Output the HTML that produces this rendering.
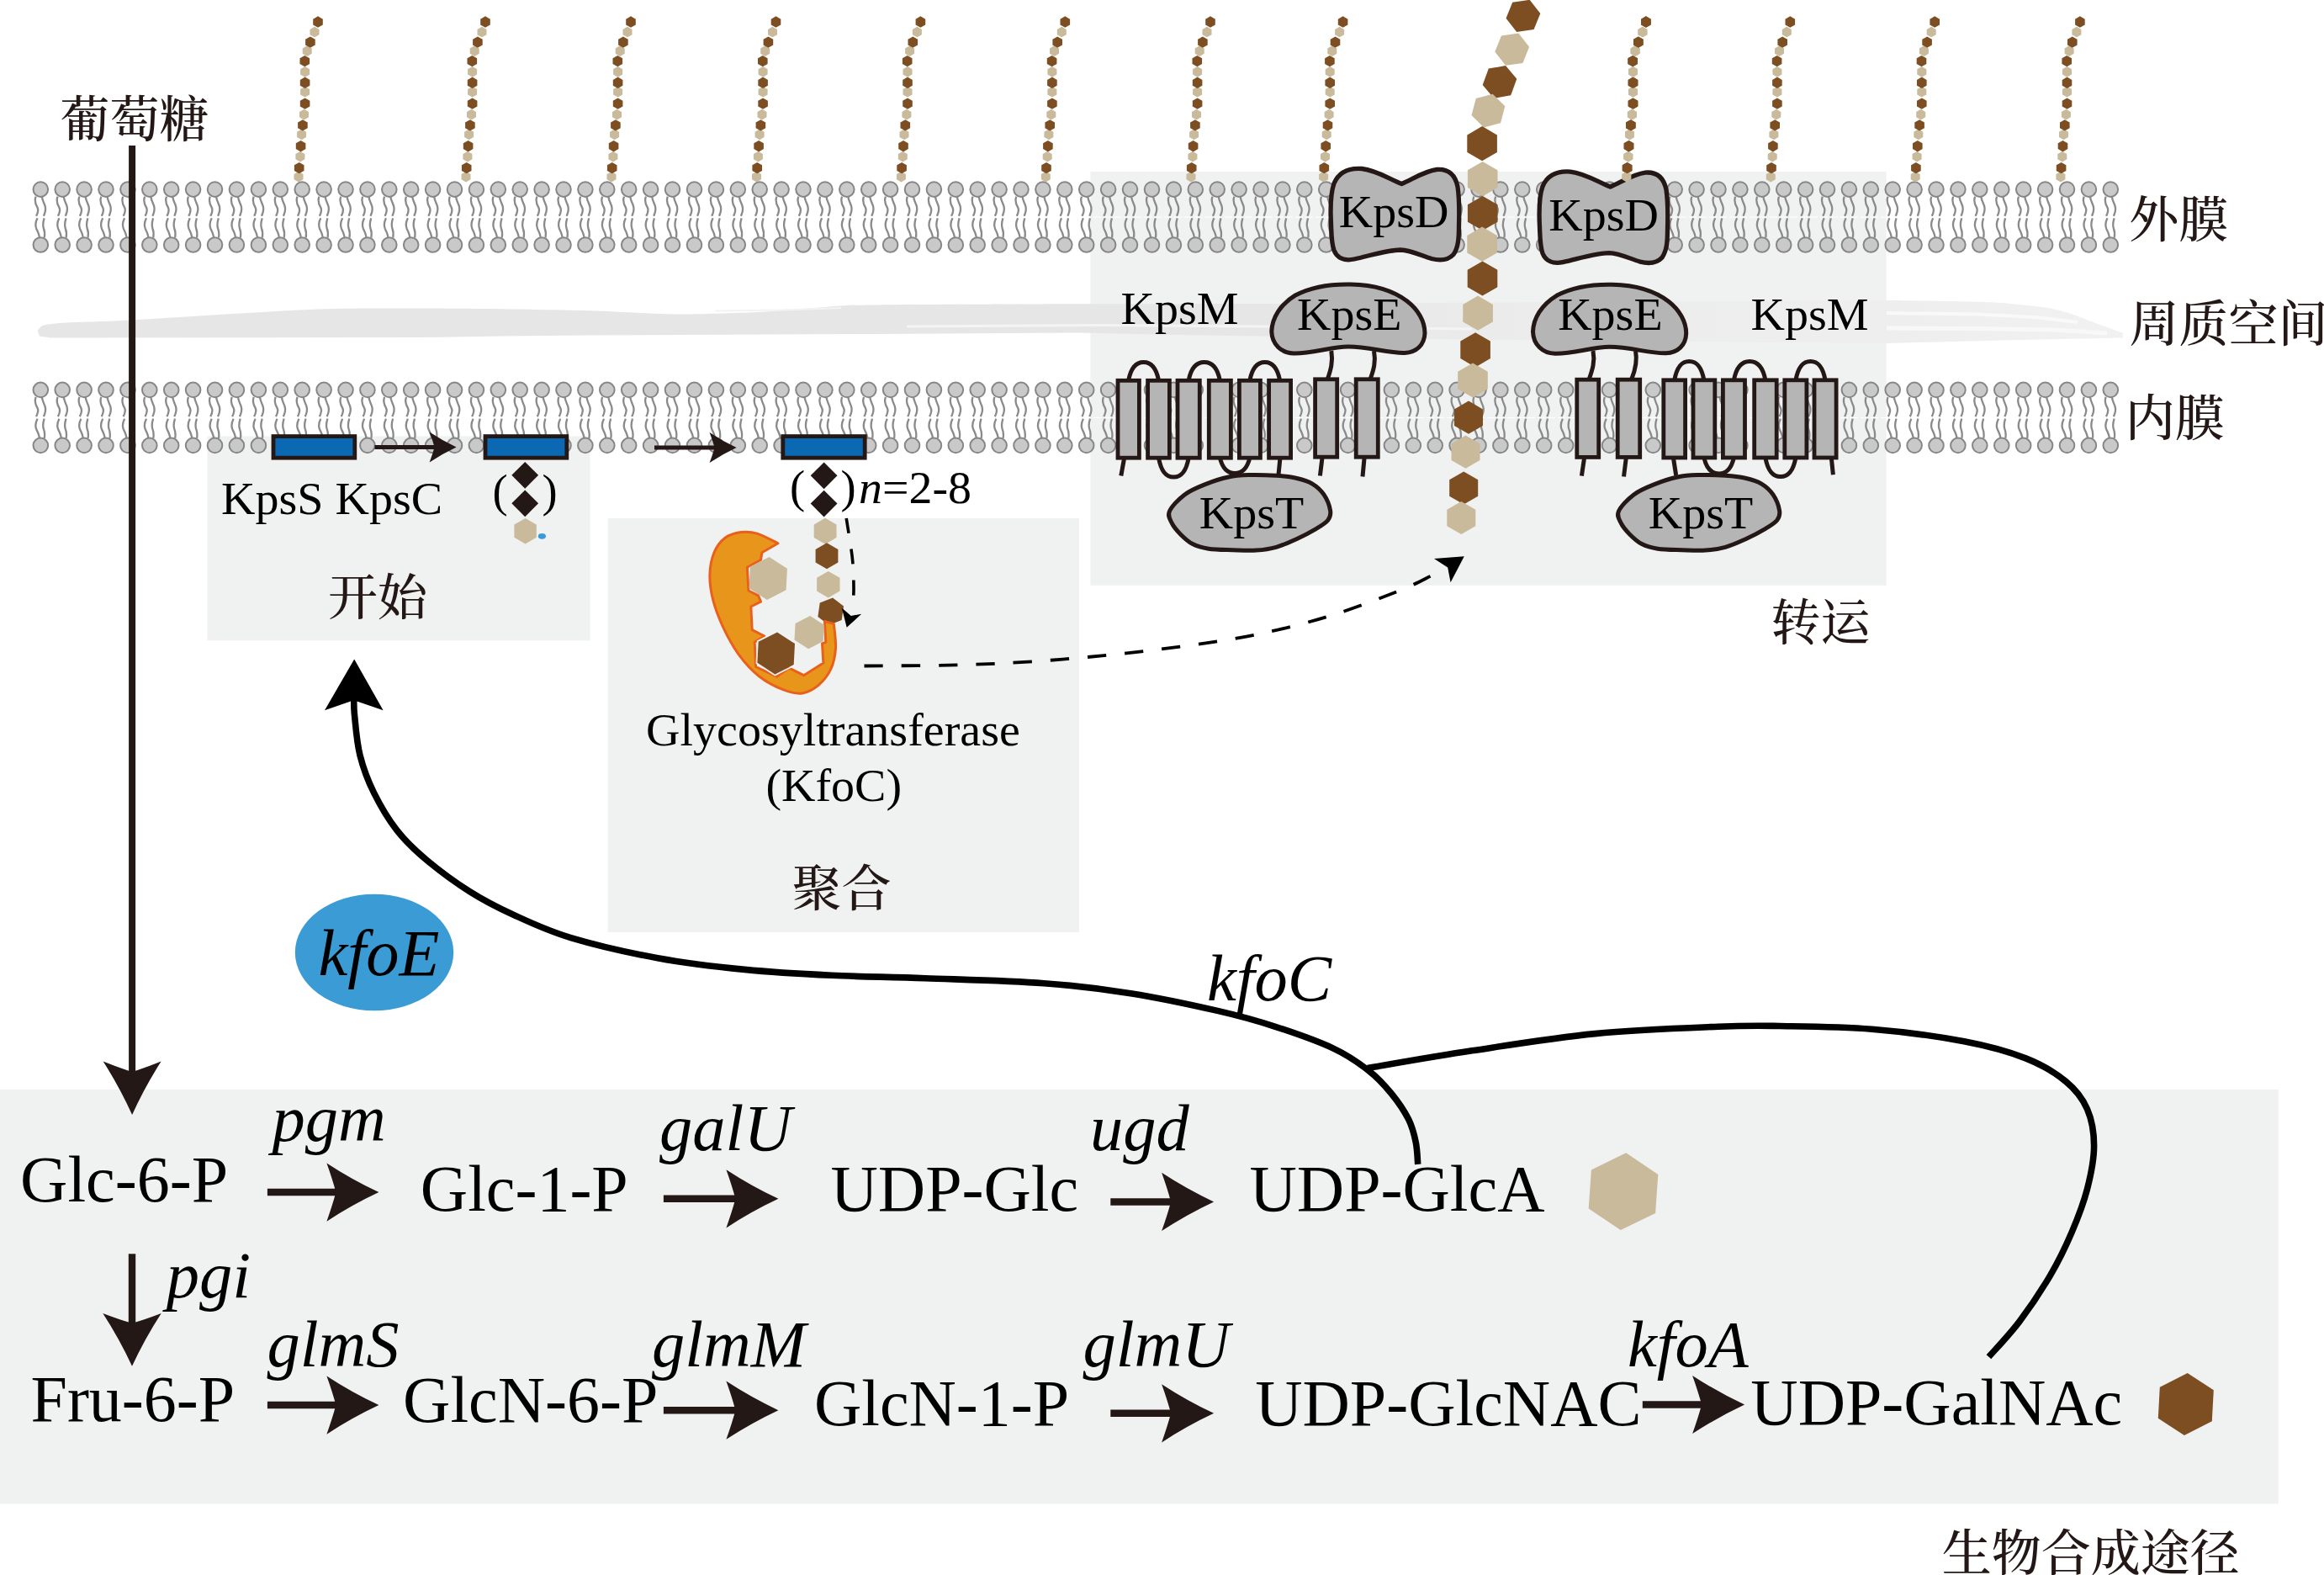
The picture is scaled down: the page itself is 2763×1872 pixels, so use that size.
<!DOCTYPE html>
<html lang="zh"><head><meta charset="utf-8"><title>K4 capsular polysaccharide biosynthesis pathway</title>
<style>html,body{margin:0;padding:0;background:#fff}body{width:2763px;height:1872px;overflow:hidden}svg{display:block}.s{font-family:"Liberation Serif","Noto Serif CJK SC",serif;fill:#000}.i{font-family:"Liberation Serif","Noto Serif CJK SC",serif;font-style:italic;fill:#000}.c{font-family:"Liberation Serif","Noto Serif CJK SC",serif;font-weight:500;fill:#231815}</style></head><body>
<svg width="2763" height="1872" viewBox="0 0 2763 1872">
<defs>
<g id="lt"><path d="M-5.7,8.5C-7.6,13.5 -6.2,17.5 -3.8,21.5C-2,25 -3.6,28.5 -5.3,31.7M1.6,8.5C1.8,12.5 3.8,15.5 5.2,19.5C6.6,24 5.4,28 3.5,31.7" fill="none" stroke="#8a8a8a" stroke-width="2.3"/><circle r="8.8" fill="#c9c9c9" stroke="#868686" stroke-width="2"/></g>
<g id="lb"><path d="M-1.5,-8.5C-1.6,-12.5 -3.2,-15.5 -4.9,-18.8C-6.6,-22.5 -6.4,-26.5 -3.8,-31.7M4.5,-8.5C5.1,-12.5 5.2,-15.5 3.6,-19.5C2.2,-23.5 3,-27.5 4.3,-31.7" fill="none" stroke="#8a8a8a" stroke-width="2.3"/><circle r="8.8" fill="#c9c9c9" stroke="#868686" stroke-width="2"/></g>
<g id="ch"><polygon points="0,-6.3 5.5,-3.1 5.5,3.1 0,6.3 -5.5,3.1 -5.5,-3.2" fill="#c8ba9a"/><polygon points="0.7,-17.3 6.5,-13.9 6.5,-7.2 0.7,-3.9 -5.1,-7.2 -5.1,-13.9" fill="#7d4e22"/><polygon points="1.9,-30.3 7.4,-27.1 7.4,-20.9 1.9,-17.7 -3.6,-20.9 -3.6,-27.2" fill="#c8ba9a"/><polygon points="2.6,-43.2 8.4,-39.9 8.4,-33.1 2.6,-29.8 -3.2,-33.1 -3.2,-39.9" fill="#7d4e22"/><polygon points="3.6,-56.6 9.1,-53.4 9.1,-47.1 3.6,-44 -1.9,-47.1 -1.9,-53.4" fill="#c8ba9a"/><polygon points="4.9,-68 10.7,-64.6 10.7,-57.9 4.9,-54.6 -0.9,-57.9 -0.9,-64.6" fill="#7d4e22"/><polygon points="6.5,-80.4 12,-77.2 12,-70.9 6.5,-67.8 1,-70.9 1,-77.2" fill="#c8ba9a"/><polygon points="7.6,-93.8 13.4,-90.4 13.4,-83.8 7.6,-80.4 1.8,-83.8 1.8,-90.4" fill="#7d4e22"/><polygon points="7.6,-107.3 13.1,-104.1 13.1,-97.8 7.6,-94.7 2.1,-97.8 2.1,-104.1" fill="#c8ba9a"/><polygon points="7.6,-118.6 13.4,-115.2 13.4,-108.5 7.6,-105.2 1.8,-108.5 1.8,-115.2" fill="#7d4e22"/><polygon points="7.6,-131.1 13.1,-127.9 13.1,-121.6 7.6,-118.5 2.1,-121.6 2.1,-127.9" fill="#c8ba9a"/><polygon points="7.3,-144.3 13.1,-140.9 13.1,-134.2 7.3,-130.9 1.5,-134.2 1.5,-140.9" fill="#7d4e22"/><polygon points="10.2,-155.9 15.7,-152.8 15.7,-146.4 10.2,-143.3 4.7,-146.4 4.7,-152.8" fill="#c8ba9a"/><polygon points="13.9,-166.8 19.7,-163.4 19.7,-156.8 13.9,-153.4 8.1,-156.8 8.1,-163.4" fill="#7d4e22"/><polygon points="19,-178.5 24.5,-175.3 24.5,-169 19,-165.9 13.5,-169 13.5,-175.3" fill="#c8ba9a"/><polygon points="23,-190.9 28.8,-187.5 28.8,-180.8 23,-177.5 17.2,-180.8 17.2,-187.5" fill="#7d4e22"/></g>
</defs>
<rect x="246.5" y="518.5" width="455.1" height="242.8" fill="#f0f1f1"/>
<rect x="722.6" y="616" width="560.4" height="492" fill="#f0f1f1"/>
<rect x="1296.4" y="204" width="946.2" height="491.8" fill="#f0f1f1"/>
<rect x="0" y="1295" width="2708.8" height="492.4" fill="#f0f1f1"/>
<linearGradient id="pg" gradientUnits="userSpaceOnUse" x1="0" y1="0" x2="2763" y2="0"><stop offset="0" stop-color="#e6e6e6"/><stop offset="0.54" stop-color="#e6e6e6"/><stop offset="0.66" stop-color="#ececec"/><stop offset="0.81" stop-color="#eeeeee"/><stop offset="0.91" stop-color="#f1f1f1"/></linearGradient>
<path d="M44.7,393C45.6,392.2 47.6,387.7 52,386.5C56.4,385.3 67.1,384.2 80,383.5C92.9,382.8 117.8,382.6 155,380.6C192.2,378.6 328.6,369.2 378,367.5C427.4,365.8 509.8,366.6 550,366.8C590.2,367 668.8,368.5 700,369.3C731.2,370.1 775,373.3 800,373.5C825,373.7 875,372.2 900,371C925,369.8 982,364.6 1000,363.5C1018,362.4 1008.4,362.7 1044,362.4C1079.6,362.1 1228,361.5 1285,361.3C1342,361.1 1435.6,361.2 1500,361C1564.4,360.8 1725,359.9 1800,359.5C1875,359.1 2044.6,358.3 2100,358C2155.4,357.7 2209.2,356.8 2243,357C2276.8,357.2 2346.4,358.3 2370,359.4C2393.6,360.5 2420.4,363.9 2432,365.6C2443.6,367.3 2455.2,370.9 2463,373.3C2470.8,375.7 2486.4,382.2 2494,385C2501.6,387.8 2520.2,394.4 2524,395.8L2524,401.5L2400,404L2243,408L2000,406L1700,403L1400,398L1285,395.5L1044,397L700,398.5L600,399.5L500,401L60,401.5L47,399.5Z" fill="url(#pg)"/>
<path d="M1078,388L1300,386.5L1500,388L1750,391" fill="none" stroke="#f4f4f4" stroke-width="3"/>
<path d="M850,369.5L930,368.5L1000,366" fill="none" stroke="#f3f3f3" stroke-width="2"/>
<path d="M2243,372L2350,373.5L2420,377L2470,383" fill="none" stroke="#f9f9f9" stroke-width="4"/>
<path d="M2243,390L2350,390.5L2440,392L2505,396" fill="none" stroke="#f8f8f8" stroke-width="5"/>
<g><use href="#lt" x="48.3" y="225.1"/><use href="#lb" x="48.3" y="291"/><use href="#lt" x="74.2" y="225.1"/><use href="#lb" x="74.2" y="291"/><use href="#lt" x="100.1" y="225.1"/><use href="#lb" x="100.1" y="291"/><use href="#lt" x="126" y="225.1"/><use href="#lb" x="126" y="291"/><use href="#lt" x="151.9" y="225.1"/><use href="#lb" x="151.9" y="291"/><use href="#lt" x="177.8" y="225.1"/><use href="#lb" x="177.8" y="291"/><use href="#lt" x="203.7" y="225.1"/><use href="#lb" x="203.7" y="291"/><use href="#lt" x="229.6" y="225.1"/><use href="#lb" x="229.6" y="291"/><use href="#lt" x="255.5" y="225.1"/><use href="#lb" x="255.5" y="291"/><use href="#lt" x="281.4" y="225.1"/><use href="#lb" x="281.4" y="291"/><use href="#lt" x="307.4" y="225.1"/><use href="#lb" x="307.4" y="291"/><use href="#lt" x="333.3" y="225.1"/><use href="#lb" x="333.3" y="291"/><use href="#lt" x="359.2" y="225.1"/><use href="#lb" x="359.2" y="291"/><use href="#lt" x="385.1" y="225.1"/><use href="#lb" x="385.1" y="291"/><use href="#lt" x="411" y="225.1"/><use href="#lb" x="411" y="291"/><use href="#lt" x="436.9" y="225.1"/><use href="#lb" x="436.9" y="291"/><use href="#lt" x="462.8" y="225.1"/><use href="#lb" x="462.8" y="291"/><use href="#lt" x="488.7" y="225.1"/><use href="#lb" x="488.7" y="291"/><use href="#lt" x="514.6" y="225.1"/><use href="#lb" x="514.6" y="291"/><use href="#lt" x="540.5" y="225.1"/><use href="#lb" x="540.5" y="291"/><use href="#lt" x="566.4" y="225.1"/><use href="#lb" x="566.4" y="291"/><use href="#lt" x="592.3" y="225.1"/><use href="#lb" x="592.3" y="291"/><use href="#lt" x="618.2" y="225.1"/><use href="#lb" x="618.2" y="291"/><use href="#lt" x="644.1" y="225.1"/><use href="#lb" x="644.1" y="291"/><use href="#lt" x="670" y="225.1"/><use href="#lb" x="670" y="291"/><use href="#lt" x="695.9" y="225.1"/><use href="#lb" x="695.9" y="291"/><use href="#lt" x="721.8" y="225.1"/><use href="#lb" x="721.8" y="291"/><use href="#lt" x="747.7" y="225.1"/><use href="#lb" x="747.7" y="291"/><use href="#lt" x="773.6" y="225.1"/><use href="#lb" x="773.6" y="291"/><use href="#lt" x="799.5" y="225.1"/><use href="#lb" x="799.5" y="291"/><use href="#lt" x="825.5" y="225.1"/><use href="#lb" x="825.5" y="291"/><use href="#lt" x="851.4" y="225.1"/><use href="#lb" x="851.4" y="291"/><use href="#lt" x="877.3" y="225.1"/><use href="#lb" x="877.3" y="291"/><use href="#lt" x="903.2" y="225.1"/><use href="#lb" x="903.2" y="291"/><use href="#lt" x="929.1" y="225.1"/><use href="#lb" x="929.1" y="291"/><use href="#lt" x="955" y="225.1"/><use href="#lb" x="955" y="291"/><use href="#lt" x="980.9" y="225.1"/><use href="#lb" x="980.9" y="291"/><use href="#lt" x="1006.8" y="225.1"/><use href="#lb" x="1006.8" y="291"/><use href="#lt" x="1032.7" y="225.1"/><use href="#lb" x="1032.7" y="291"/><use href="#lt" x="1058.6" y="225.1"/><use href="#lb" x="1058.6" y="291"/><use href="#lt" x="1084.5" y="225.1"/><use href="#lb" x="1084.5" y="291"/><use href="#lt" x="1110.4" y="225.1"/><use href="#lb" x="1110.4" y="291"/><use href="#lt" x="1136.3" y="225.1"/><use href="#lb" x="1136.3" y="291"/><use href="#lt" x="1162.2" y="225.1"/><use href="#lb" x="1162.2" y="291"/><use href="#lt" x="1188.1" y="225.1"/><use href="#lb" x="1188.1" y="291"/><use href="#lt" x="1214" y="225.1"/><use href="#lb" x="1214" y="291"/><use href="#lt" x="1239.9" y="225.1"/><use href="#lb" x="1239.9" y="291"/><use href="#lt" x="1265.8" y="225.1"/><use href="#lb" x="1265.8" y="291"/><use href="#lt" x="1291.7" y="225.1"/><use href="#lb" x="1291.7" y="291"/><use href="#lt" x="1317.6" y="225.1"/><use href="#lb" x="1317.6" y="291"/><use href="#lt" x="1343.5" y="225.1"/><use href="#lb" x="1343.5" y="291"/><use href="#lt" x="1369.5" y="225.1"/><use href="#lb" x="1369.5" y="291"/><use href="#lt" x="1395.4" y="225.1"/><use href="#lb" x="1395.4" y="291"/><use href="#lt" x="1421.3" y="225.1"/><use href="#lb" x="1421.3" y="291"/><use href="#lt" x="1447.2" y="225.1"/><use href="#lb" x="1447.2" y="291"/><use href="#lt" x="1473.1" y="225.1"/><use href="#lb" x="1473.1" y="291"/><use href="#lt" x="1499" y="225.1"/><use href="#lb" x="1499" y="291"/><use href="#lt" x="1524.9" y="225.1"/><use href="#lb" x="1524.9" y="291"/><use href="#lt" x="1550.8" y="225.1"/><use href="#lb" x="1550.8" y="291"/><use href="#lt" x="1576.7" y="225.1"/><use href="#lb" x="1576.7" y="291"/><use href="#lt" x="1602.6" y="225.1"/><use href="#lb" x="1602.6" y="291"/><use href="#lt" x="1628.5" y="225.1"/><use href="#lb" x="1628.5" y="291"/><use href="#lt" x="1654.4" y="225.1"/><use href="#lb" x="1654.4" y="291"/><use href="#lt" x="1680.3" y="225.1"/><use href="#lb" x="1680.3" y="291"/><use href="#lt" x="1706.2" y="225.1"/><use href="#lb" x="1706.2" y="291"/><use href="#lt" x="1732.1" y="225.1"/><use href="#lb" x="1732.1" y="291"/><use href="#lt" x="1758" y="225.1"/><use href="#lb" x="1758" y="291"/><use href="#lt" x="1783.9" y="225.1"/><use href="#lb" x="1783.9" y="291"/><use href="#lt" x="1809.8" y="225.1"/><use href="#lb" x="1809.8" y="291"/><use href="#lt" x="1835.7" y="225.1"/><use href="#lb" x="1835.7" y="291"/><use href="#lt" x="1861.7" y="225.1"/><use href="#lb" x="1861.7" y="291"/><use href="#lt" x="1887.6" y="225.1"/><use href="#lb" x="1887.6" y="291"/><use href="#lt" x="1913.5" y="225.1"/><use href="#lb" x="1913.5" y="291"/><use href="#lt" x="1939.4" y="225.1"/><use href="#lb" x="1939.4" y="291"/><use href="#lt" x="1965.3" y="225.1"/><use href="#lb" x="1965.3" y="291"/><use href="#lt" x="1991.2" y="225.1"/><use href="#lb" x="1991.2" y="291"/><use href="#lt" x="2017.1" y="225.1"/><use href="#lb" x="2017.1" y="291"/><use href="#lt" x="2043" y="225.1"/><use href="#lb" x="2043" y="291"/><use href="#lt" x="2068.9" y="225.1"/><use href="#lb" x="2068.9" y="291"/><use href="#lt" x="2094.8" y="225.1"/><use href="#lb" x="2094.8" y="291"/><use href="#lt" x="2120.7" y="225.1"/><use href="#lb" x="2120.7" y="291"/><use href="#lt" x="2146.6" y="225.1"/><use href="#lb" x="2146.6" y="291"/><use href="#lt" x="2172.5" y="225.1"/><use href="#lb" x="2172.5" y="291"/><use href="#lt" x="2198.4" y="225.1"/><use href="#lb" x="2198.4" y="291"/><use href="#lt" x="2224.3" y="225.1"/><use href="#lb" x="2224.3" y="291"/><use href="#lt" x="2250.2" y="225.1"/><use href="#lb" x="2250.2" y="291"/><use href="#lt" x="2276.1" y="225.1"/><use href="#lb" x="2276.1" y="291"/><use href="#lt" x="2302" y="225.1"/><use href="#lb" x="2302" y="291"/><use href="#lt" x="2327.9" y="225.1"/><use href="#lb" x="2327.9" y="291"/><use href="#lt" x="2353.8" y="225.1"/><use href="#lb" x="2353.8" y="291"/><use href="#lt" x="2379.8" y="225.1"/><use href="#lb" x="2379.8" y="291"/><use href="#lt" x="2405.7" y="225.1"/><use href="#lb" x="2405.7" y="291"/><use href="#lt" x="2431.6" y="225.1"/><use href="#lb" x="2431.6" y="291"/><use href="#lt" x="2457.5" y="225.1"/><use href="#lb" x="2457.5" y="291"/><use href="#lt" x="2483.4" y="225.1"/><use href="#lb" x="2483.4" y="291"/><use href="#lt" x="2509.3" y="225.1"/><use href="#lb" x="2509.3" y="291"/></g>
<line x1="40" y1="258.1" x2="2520" y2="258.1" stroke="#fff" stroke-width="1" stroke-dasharray="9 3"/>
<g><use href="#lt" x="48.3" y="463.4"/><use href="#lb" x="48.3" y="529.4"/><use href="#lt" x="74.2" y="463.4"/><use href="#lb" x="74.2" y="529.4"/><use href="#lt" x="100.1" y="463.4"/><use href="#lb" x="100.1" y="529.4"/><use href="#lt" x="126" y="463.4"/><use href="#lb" x="126" y="529.4"/><use href="#lt" x="151.9" y="463.4"/><use href="#lb" x="151.9" y="529.4"/><use href="#lt" x="177.8" y="463.4"/><use href="#lb" x="177.8" y="529.4"/><use href="#lt" x="203.7" y="463.4"/><use href="#lb" x="203.7" y="529.4"/><use href="#lt" x="229.6" y="463.4"/><use href="#lb" x="229.6" y="529.4"/><use href="#lt" x="255.5" y="463.4"/><use href="#lb" x="255.5" y="529.4"/><use href="#lt" x="281.4" y="463.4"/><use href="#lb" x="281.4" y="529.4"/><use href="#lt" x="307.4" y="463.4"/><use href="#lb" x="307.4" y="529.4"/><use href="#lt" x="333.3" y="463.4"/><use href="#lb" x="333.3" y="529.4"/><use href="#lt" x="359.2" y="463.4"/><use href="#lb" x="359.2" y="529.4"/><use href="#lt" x="385.1" y="463.4"/><use href="#lb" x="385.1" y="529.4"/><use href="#lt" x="411" y="463.4"/><use href="#lb" x="411" y="529.4"/><use href="#lt" x="436.9" y="463.4"/><use href="#lb" x="436.9" y="529.4"/><use href="#lt" x="462.8" y="463.4"/><use href="#lb" x="462.8" y="529.4"/><use href="#lt" x="488.7" y="463.4"/><use href="#lb" x="488.7" y="529.4"/><use href="#lt" x="514.6" y="463.4"/><use href="#lb" x="514.6" y="529.4"/><use href="#lt" x="540.5" y="463.4"/><use href="#lb" x="540.5" y="529.4"/><use href="#lt" x="566.4" y="463.4"/><use href="#lb" x="566.4" y="529.4"/><use href="#lt" x="592.3" y="463.4"/><use href="#lb" x="592.3" y="529.4"/><use href="#lt" x="618.2" y="463.4"/><use href="#lb" x="618.2" y="529.4"/><use href="#lt" x="644.1" y="463.4"/><use href="#lb" x="644.1" y="529.4"/><use href="#lt" x="670" y="463.4"/><use href="#lb" x="670" y="529.4"/><use href="#lt" x="695.9" y="463.4"/><use href="#lb" x="695.9" y="529.4"/><use href="#lt" x="721.8" y="463.4"/><use href="#lb" x="721.8" y="529.4"/><use href="#lt" x="747.7" y="463.4"/><use href="#lb" x="747.7" y="529.4"/><use href="#lt" x="773.6" y="463.4"/><use href="#lb" x="773.6" y="529.4"/><use href="#lt" x="799.5" y="463.4"/><use href="#lb" x="799.5" y="529.4"/><use href="#lt" x="825.5" y="463.4"/><use href="#lb" x="825.5" y="529.4"/><use href="#lt" x="851.4" y="463.4"/><use href="#lb" x="851.4" y="529.4"/><use href="#lt" x="877.3" y="463.4"/><use href="#lb" x="877.3" y="529.4"/><use href="#lt" x="903.2" y="463.4"/><use href="#lb" x="903.2" y="529.4"/><use href="#lt" x="929.1" y="463.4"/><use href="#lb" x="929.1" y="529.4"/><use href="#lt" x="955" y="463.4"/><use href="#lb" x="955" y="529.4"/><use href="#lt" x="980.9" y="463.4"/><use href="#lb" x="980.9" y="529.4"/><use href="#lt" x="1006.8" y="463.4"/><use href="#lb" x="1006.8" y="529.4"/><use href="#lt" x="1032.7" y="463.4"/><use href="#lb" x="1032.7" y="529.4"/><use href="#lt" x="1058.6" y="463.4"/><use href="#lb" x="1058.6" y="529.4"/><use href="#lt" x="1084.5" y="463.4"/><use href="#lb" x="1084.5" y="529.4"/><use href="#lt" x="1110.4" y="463.4"/><use href="#lb" x="1110.4" y="529.4"/><use href="#lt" x="1136.3" y="463.4"/><use href="#lb" x="1136.3" y="529.4"/><use href="#lt" x="1162.2" y="463.4"/><use href="#lb" x="1162.2" y="529.4"/><use href="#lt" x="1188.1" y="463.4"/><use href="#lb" x="1188.1" y="529.4"/><use href="#lt" x="1214" y="463.4"/><use href="#lb" x="1214" y="529.4"/><use href="#lt" x="1239.9" y="463.4"/><use href="#lb" x="1239.9" y="529.4"/><use href="#lt" x="1265.8" y="463.4"/><use href="#lb" x="1265.8" y="529.4"/><use href="#lt" x="1291.7" y="463.4"/><use href="#lb" x="1291.7" y="529.4"/><use href="#lt" x="1317.6" y="463.4"/><use href="#lb" x="1317.6" y="529.4"/><use href="#lt" x="1343.5" y="463.4"/><use href="#lb" x="1343.5" y="529.4"/><use href="#lt" x="1369.5" y="463.4"/><use href="#lb" x="1369.5" y="529.4"/><use href="#lt" x="1395.4" y="463.4"/><use href="#lb" x="1395.4" y="529.4"/><use href="#lt" x="1421.3" y="463.4"/><use href="#lb" x="1421.3" y="529.4"/><use href="#lt" x="1447.2" y="463.4"/><use href="#lb" x="1447.2" y="529.4"/><use href="#lt" x="1473.1" y="463.4"/><use href="#lb" x="1473.1" y="529.4"/><use href="#lt" x="1499" y="463.4"/><use href="#lb" x="1499" y="529.4"/><use href="#lt" x="1524.9" y="463.4"/><use href="#lb" x="1524.9" y="529.4"/><use href="#lt" x="1550.8" y="463.4"/><use href="#lb" x="1550.8" y="529.4"/><use href="#lt" x="1576.7" y="463.4"/><use href="#lb" x="1576.7" y="529.4"/><use href="#lt" x="1602.6" y="463.4"/><use href="#lb" x="1602.6" y="529.4"/><use href="#lt" x="1628.5" y="463.4"/><use href="#lb" x="1628.5" y="529.4"/><use href="#lt" x="1654.4" y="463.4"/><use href="#lb" x="1654.4" y="529.4"/><use href="#lt" x="1680.3" y="463.4"/><use href="#lb" x="1680.3" y="529.4"/><use href="#lt" x="1706.2" y="463.4"/><use href="#lb" x="1706.2" y="529.4"/><use href="#lt" x="1732.1" y="463.4"/><use href="#lb" x="1732.1" y="529.4"/><use href="#lt" x="1758" y="463.4"/><use href="#lb" x="1758" y="529.4"/><use href="#lt" x="1783.9" y="463.4"/><use href="#lb" x="1783.9" y="529.4"/><use href="#lt" x="1809.8" y="463.4"/><use href="#lb" x="1809.8" y="529.4"/><use href="#lt" x="1835.7" y="463.4"/><use href="#lb" x="1835.7" y="529.4"/><use href="#lt" x="1861.7" y="463.4"/><use href="#lb" x="1861.7" y="529.4"/><use href="#lt" x="1887.6" y="463.4"/><use href="#lb" x="1887.6" y="529.4"/><use href="#lt" x="1913.5" y="463.4"/><use href="#lb" x="1913.5" y="529.4"/><use href="#lt" x="1939.4" y="463.4"/><use href="#lb" x="1939.4" y="529.4"/><use href="#lt" x="1965.3" y="463.4"/><use href="#lb" x="1965.3" y="529.4"/><use href="#lt" x="1991.2" y="463.4"/><use href="#lb" x="1991.2" y="529.4"/><use href="#lt" x="2017.1" y="463.4"/><use href="#lb" x="2017.1" y="529.4"/><use href="#lt" x="2043" y="463.4"/><use href="#lb" x="2043" y="529.4"/><use href="#lt" x="2068.9" y="463.4"/><use href="#lb" x="2068.9" y="529.4"/><use href="#lt" x="2094.8" y="463.4"/><use href="#lb" x="2094.8" y="529.4"/><use href="#lt" x="2120.7" y="463.4"/><use href="#lb" x="2120.7" y="529.4"/><use href="#lt" x="2146.6" y="463.4"/><use href="#lb" x="2146.6" y="529.4"/><use href="#lt" x="2172.5" y="463.4"/><use href="#lb" x="2172.5" y="529.4"/><use href="#lt" x="2198.4" y="463.4"/><use href="#lb" x="2198.4" y="529.4"/><use href="#lt" x="2224.3" y="463.4"/><use href="#lb" x="2224.3" y="529.4"/><use href="#lt" x="2250.2" y="463.4"/><use href="#lb" x="2250.2" y="529.4"/><use href="#lt" x="2276.1" y="463.4"/><use href="#lb" x="2276.1" y="529.4"/><use href="#lt" x="2302" y="463.4"/><use href="#lb" x="2302" y="529.4"/><use href="#lt" x="2327.9" y="463.4"/><use href="#lb" x="2327.9" y="529.4"/><use href="#lt" x="2353.8" y="463.4"/><use href="#lb" x="2353.8" y="529.4"/><use href="#lt" x="2379.8" y="463.4"/><use href="#lb" x="2379.8" y="529.4"/><use href="#lt" x="2405.7" y="463.4"/><use href="#lb" x="2405.7" y="529.4"/><use href="#lt" x="2431.6" y="463.4"/><use href="#lb" x="2431.6" y="529.4"/><use href="#lt" x="2457.5" y="463.4"/><use href="#lb" x="2457.5" y="529.4"/><use href="#lt" x="2483.4" y="463.4"/><use href="#lb" x="2483.4" y="529.4"/><use href="#lt" x="2509.3" y="463.4"/><use href="#lb" x="2509.3" y="529.4"/></g>
<line x1="40" y1="496.4" x2="2520" y2="496.4" stroke="#fff" stroke-width="1" stroke-dasharray="9 3"/>
<use href="#ch" x="355" y="210.2"/>
<use href="#ch" x="554" y="210.2"/>
<use href="#ch" x="727" y="210.2"/>
<use href="#ch" x="899.5" y="210.2"/>
<use href="#ch" x="1071.4" y="210.2"/>
<use href="#ch" x="1243.3" y="210.2"/>
<use href="#ch" x="1416" y="210.2"/>
<use href="#ch" x="1573.6" y="210.2"/>
<use href="#ch" x="1933.9" y="210.2"/>
<use href="#ch" x="2105.3" y="210.2"/>
<use href="#ch" x="2277.2" y="210.2"/>
<use href="#ch" x="2449.9" y="210.2"/>
<path d="M153.1,173V1275H161.1V173Z" fill="#231815"/>
<path d="M157.1,1325Q142.1,1292 122.6,1261.5Q141.6,1269.2 157.1,1274Q172.6,1269.2 191.6,1261.5Q172.1,1292 157.1,1325Z" fill="#231815"/>
<rect x="325" y="518.6" width="96.8" height="25.6" fill="#0b68b3" stroke="#231815" stroke-width="4.8"/>
<rect x="577" y="518.6" width="96.8" height="25.6" fill="#0b68b3" stroke="#231815" stroke-width="4.8"/>
<rect x="930.8" y="518.6" width="97.4" height="25.6" fill="#0b68b3" stroke="#231815" stroke-width="4.8"/>
<path d="M445.5,528.9H517.6V533.9H445.5Z" fill="#231815"/>
<path d="M542.6,531.4Q526,523.6 510.6,513.4Q514.3,523.3 516.6,531.4Q514.3,539.5 510.6,549.4Q526,539.2 542.6,531.4Z" fill="#231815"/>
<path d="M778,529.5H850.6V534.5H778Z" fill="#231815"/>
<path d="M875.6,532Q859,524.2 843.6,514Q847.3,523.9 849.6,532Q847.3,540.1 843.6,550Q859,539.8 875.6,532Z" fill="#231815"/>
<path d="M624.2,548.9L640.1,564.8L624.2,580.7L608.3,564.8Z" fill="#231815"/>
<path d="M624.2,582.4L640.1,598.3L624.2,614.2L608.3,598.3Z" fill="#231815"/>
<path d="M979.6,549.4L995.5,565.3L979.6,581.2L963.7,565.3Z" fill="#231815"/>
<path d="M979.6,582.7L995.5,598.6L979.6,614.5L963.7,598.6Z" fill="#231815"/>
<polygon points="624.6,616 637.8,623.6 637.8,638.8 624.6,646.4 611.4,638.8 611.4,623.6" fill="#c8ba9a"/>
<ellipse cx="644.4" cy="637.3" rx="4.6" ry="3.4" fill="#3a9ad9"/>
<polygon points="981.1,615.7 994.5,623.5 994.5,639 981.1,646.7 967.7,639 967.7,623.5" fill="#c8ba9a"/>
<polygon points="983,645.3 996.4,653 996.4,668.5 983,676.3 969.6,668.5 969.6,653" fill="#7d4e22"/>
<polygon points="984.8,678.9 998.5,686.8 998.5,702.6 984.8,710.5 971.1,702.6 971.1,686.8" fill="#c8ba9a"/>
<polygon points="990,710.5 1003,720.6 1000.7,737 985.4,743.1 972.4,733 974.7,716.6" fill="#7d4e22"/>
<path d="M924.9,645.8C920.8,643.8 907.4,636.3 900.1,634.1C892.8,631.9 887.4,631.8 881.1,632.6C874.8,633.5 867.5,635.2 862.1,639.2C856.8,643.2 852,649.4 849,656.7C846,664 844.1,673.8 843.9,683C843.6,692.2 845,702 847.5,712.2C850,722.4 854.1,733.3 859.2,744.3C864.3,755.2 870.9,767.9 878.2,777.9C885.5,787.9 894,797.2 903,804.2C912,811.2 923.7,816.9 932.2,820.2C940.7,823.5 947.3,824.9 954.1,823.9C960.9,822.9 967.5,819.1 973.1,814.4C978.7,809.6 984.3,802.7 987.7,795.4C991.1,788.1 992.9,779.6 993.5,770.6C994.1,761.6 991.7,746.3 991.3,741.4L980.4,738.5L981.8,763.3L977.5,764.8L978.9,788.1L955.6,802.7L938,793.9L923.4,804.2L898.6,792.5L897.2,763.3L908.8,756L894.2,748.7L892.8,721L904.5,715.1L901.5,707.8L889.9,702L888.4,674.2L904.5,665.5L905.9,656.7Z" fill="#e8951c" stroke="#e9601b" stroke-width="3" stroke-linejoin="round"/>
<polygon points="914.5,661.9 935.9,675.8 934.6,701.3 911.9,712.9 890.5,699 891.8,673.5" fill="#c8ba9a"/>
<polygon points="924.1,750.2 946,764.5 944.7,790.7 921.3,802.6 899.4,788.3 900.7,762.1" fill="none" stroke="#f3f3f3" stroke-width="1.6"/>
<polygon points="924,751.4 945,765.1 943.7,790 921.4,801.4 900.4,787.7 901.7,762.8" fill="#7d4e22"/>
<polygon points="963.1,731.9 979.7,742.7 978.6,762.3 961.1,771.3 944.5,760.5 945.6,740.9" fill="#c8ba9a"/>
<path d="M1341.7,452C1344.7,436.5 1350.6,430.5 1359.6,430.5C1368.6,430.5 1374.5,436.5 1377.5,452" fill="none" stroke="#231815" stroke-width="5"/>
<path d="M1413.2,452C1416.2,436.5 1422.8,430.5 1431.8,430.5C1440.8,430.5 1447.3,436.5 1450.3,452" fill="none" stroke="#231815" stroke-width="5"/>
<path d="M1485.9,452C1488.9,436.5 1494.8,430.5 1503.8,430.5C1512.8,430.5 1518.6,436.5 1521.6,452" fill="none" stroke="#231815" stroke-width="5"/>
<path d="M1377.5,544C1380.5,561 1386.3,567 1395.3,567C1404.3,567 1410.2,561 1413.2,544" fill="none" stroke="#231815" stroke-width="5"/>
<path d="M1450.3,544C1453.3,556.5 1459.1,562.5 1468.1,562.5C1477.1,562.5 1482.9,556.5 1485.9,544" fill="none" stroke="#231815" stroke-width="5"/>
<path d="M1336.7,544L1332.8,565.5" fill="none" stroke="#231815" stroke-width="5"/>
<path d="M1522,544L1519.8,566" fill="none" stroke="#231815" stroke-width="5"/>
<path d="M1572,544L1569.4,565.5" fill="none" stroke="#231815" stroke-width="5"/>
<path d="M1622.1,544L1620,566.4" fill="none" stroke="#231815" stroke-width="5"/>
<path d="M1582.8,417C1585,430 1582,440 1578.5,450" fill="none" stroke="#231815" stroke-width="5"/>
<path d="M1633.5,417C1636,430 1633,440 1629.3,450" fill="none" stroke="#231815" stroke-width="5"/>
<path d="M1990.7,452C1993.7,435.5 1999.3,429.5 2008.3,429.5C2017.3,429.5 2022.9,435.5 2025.9,452" fill="none" stroke="#231815" stroke-width="5"/>
<path d="M2061.4,452C2064.4,435.5 2071.2,429.5 2080.2,429.5C2089.2,429.5 2095.9,435.5 2098.9,452" fill="none" stroke="#231815" stroke-width="5"/>
<path d="M2134.9,452C2137.9,435.5 2143.5,429.5 2152.5,429.5C2161.5,429.5 2167.1,435.5 2170.1,452" fill="none" stroke="#231815" stroke-width="5"/>
<path d="M2025.9,544C2028.9,557 2034.7,563 2043.7,563C2052.7,563 2058.4,557 2061.4,544" fill="none" stroke="#231815" stroke-width="5"/>
<path d="M2098.9,544C2101.9,560.5 2107.9,566.5 2116.9,566.5C2125.9,566.5 2131.9,560.5 2134.9,544" fill="none" stroke="#231815" stroke-width="5"/>
<path d="M1989.4,544L1992.7,565" fill="none" stroke="#231815" stroke-width="5"/>
<path d="M2177.3,544L2179.4,564.3" fill="none" stroke="#231815" stroke-width="5"/>
<path d="M1883.6,544L1880.4,565.6" fill="none" stroke="#231815" stroke-width="5"/>
<path d="M1933.3,544L1930.5,566.5" fill="none" stroke="#231815" stroke-width="5"/>
<path d="M1894,417C1896.5,430 1893,440 1889.5,450" fill="none" stroke="#231815" stroke-width="5"/>
<path d="M1944.5,417C1947,430 1944,440 1940,450" fill="none" stroke="#231815" stroke-width="5"/>
<rect x="1329" y="452.3" width="25.4" height="91.9" fill="#b5b5b6" stroke="#231815" stroke-width="4.8"/>
<rect x="1364.6" y="452.3" width="25.8" height="91.9" fill="#b5b5b6" stroke="#231815" stroke-width="4.8"/>
<rect x="1400" y="452.3" width="26.3" height="91.9" fill="#b5b5b6" stroke="#231815" stroke-width="4.8"/>
<rect x="1437.3" y="452.3" width="26.1" height="91.9" fill="#b5b5b6" stroke="#231815" stroke-width="4.8"/>
<rect x="1473.4" y="452.3" width="25" height="91.9" fill="#b5b5b6" stroke="#231815" stroke-width="4.8"/>
<rect x="1508.6" y="452.3" width="26" height="91.9" fill="#b5b5b6" stroke="#231815" stroke-width="4.8"/>
<rect x="1563.6" y="450.8" width="26.1" height="92.4" fill="#b5b5b6" stroke="#231815" stroke-width="4.8"/>
<rect x="1612.2" y="450.8" width="26.1" height="92.4" fill="#b5b5b6" stroke="#231815" stroke-width="4.8"/>
<rect x="1977.8" y="451.8" width="25.8" height="92.2" fill="#b5b5b6" stroke="#231815" stroke-width="4.8"/>
<rect x="2013" y="451.8" width="25.8" height="92.2" fill="#b5b5b6" stroke="#231815" stroke-width="4.8"/>
<rect x="2048.4" y="451.8" width="26.1" height="92.2" fill="#b5b5b6" stroke="#231815" stroke-width="4.8"/>
<rect x="2085.7" y="451.8" width="26.5" height="92.2" fill="#b5b5b6" stroke="#231815" stroke-width="4.8"/>
<rect x="2121.8" y="451.8" width="26.1" height="92.2" fill="#b5b5b6" stroke="#231815" stroke-width="4.8"/>
<rect x="2157" y="451.8" width="26.1" height="92.2" fill="#b5b5b6" stroke="#231815" stroke-width="4.8"/>
<rect x="1874.8" y="451.2" width="25.9" height="92.2" fill="#b5b5b6" stroke="#231815" stroke-width="4.8"/>
<rect x="1923.2" y="451.2" width="26.5" height="92.2" fill="#b5b5b6" stroke="#231815" stroke-width="4.8"/>
<path d="M1582.5,266C1581.5,247 1581.5,231 1586,218C1592,204 1605,199.5 1619,200.5C1637,202.5 1652,213 1666.4,218.5C1681,212 1695,203 1708,201.5C1721,200.5 1730,207 1733,222C1735,236 1735,252 1734.5,268C1734.5,282 1734,294 1728,302.5C1721,310 1712,310 1702,307.5C1690,304 1678,297.5 1665,297C1650,297 1630,303.5 1610,308C1598,310.5 1589.5,306.5 1586,297.5C1582.8,288.5 1583,278 1582.5,266Z" transform="translate(0,0)" fill="#b5b5b6" stroke="#231815" stroke-width="5.3" stroke-linejoin="round"/>
<path d="M1582.5,266C1581.5,247 1581.5,231 1586,218C1592,204 1605,199.5 1619,200.5C1637,202.5 1652,213 1666.4,218.5C1681,212 1695,203 1708,201.5C1721,200.5 1730,207 1733,222C1735,236 1735,252 1734.5,268C1734.5,282 1734,294 1728,302.5C1721,310 1712,310 1702,307.5C1690,304 1678,297.5 1665,297C1650,297 1630,303.5 1610,308C1598,310.5 1589.5,306.5 1586,297.5C1582.8,288.5 1583,278 1582.5,266Z" transform="translate(248,3.6)" fill="#b5b5b6" stroke="#231815" stroke-width="5.3" stroke-linejoin="round"/>
<use href="#ch" x="1933.9" y="210.2"/>
<path d="M1511.8,394C1512.3,378 1522,362 1540,351C1559,341 1582,337.5 1606,338C1632,338.5 1656,345 1673,358C1686,368 1694,382 1694,396C1693.5,410 1684,419 1670,419.5C1650,420 1628,412 1603,412C1582,412 1560,420.5 1538,420C1523,419.5 1512.3,409 1511.8,394Z" transform="translate(0,0)" fill="#b5b5b6" stroke="#231815" stroke-width="5" stroke-linejoin="round"/>
<path d="M1511.8,394C1512.3,378 1522,362 1540,351C1559,341 1582,337.5 1606,338C1632,338.5 1656,345 1673,358C1686,368 1694,382 1694,396C1693.5,410 1684,419 1670,419.5C1650,420 1628,412 1603,412C1582,412 1560,420.5 1538,420C1523,419.5 1512.3,409 1511.8,394Z" transform="translate(310.7,0.3)" fill="#b5b5b6" stroke="#231815" stroke-width="5" stroke-linejoin="round"/>
<path d="M1390.4,607.7C1392.9,602 1401.3,593.2 1408.4,587.9C1415.5,582.5 1424.3,579.1 1433,575.6C1441.7,572.1 1452,568.8 1460.5,567C1469,565.2 1474.6,564.9 1484.1,564.6C1493.6,564.3 1507.8,564.7 1517.3,565.3C1526.8,565.9 1533.8,566.6 1540.9,568.2C1548,569.8 1554.4,571.5 1559.9,574.8C1565.4,578.1 1570.4,582.6 1574,587.9C1577.6,593.2 1580.8,601.8 1581.6,606.8C1582.4,611.8 1581.6,614.6 1578.8,618.2C1576,621.8 1570.9,624.8 1564.6,628.6C1558.3,632.4 1548.8,637.3 1540.9,640.9C1533,644.5 1525.2,648.1 1517.3,650.3C1509.4,652.5 1502.3,653.5 1493.6,654.1C1484.9,654.7 1474.7,654 1465.2,653.7C1455.7,653.4 1444.7,653.4 1436.8,652.2C1428.9,651 1423.4,649.4 1417.9,646.6C1412.4,643.8 1407.8,639.3 1403.7,635.2C1399.6,631.1 1395.5,626.5 1393.3,621.9C1391.1,617.3 1387.9,613.4 1390.4,607.7Z" transform="translate(0,0)" fill="#b5b5b6" stroke="#231815" stroke-width="5" stroke-linejoin="round"/>
<path d="M1390.4,607.7C1392.9,602 1401.3,593.2 1408.4,587.9C1415.5,582.5 1424.3,579.1 1433,575.6C1441.7,572.1 1452,568.8 1460.5,567C1469,565.2 1474.6,564.9 1484.1,564.6C1493.6,564.3 1507.8,564.7 1517.3,565.3C1526.8,565.9 1533.8,566.6 1540.9,568.2C1548,569.8 1554.4,571.5 1559.9,574.8C1565.4,578.1 1570.4,582.6 1574,587.9C1577.6,593.2 1580.8,601.8 1581.6,606.8C1582.4,611.8 1581.6,614.6 1578.8,618.2C1576,621.8 1570.9,624.8 1564.6,628.6C1558.3,632.4 1548.8,637.3 1540.9,640.9C1533,644.5 1525.2,648.1 1517.3,650.3C1509.4,652.5 1502.3,653.5 1493.6,654.1C1484.9,654.7 1474.7,654 1465.2,653.7C1455.7,653.4 1444.7,653.4 1436.8,652.2C1428.9,651 1423.4,649.4 1417.9,646.6C1412.4,643.8 1407.8,639.3 1403.7,635.2C1399.6,631.1 1395.5,626.5 1393.3,621.9C1391.1,617.3 1387.9,613.4 1390.4,607.7Z" transform="translate(534,0)" fill="#b5b5b6" stroke="#231815" stroke-width="5" stroke-linejoin="round"/>
<polygon points="1818.6,-0.2 1831.3,16 1823.6,35.1 1803.2,38 1790.5,21.8 1798.2,2.7" fill="#7d4e22"/>
<polygon points="1805.4,39.6 1818.1,55.8 1810.4,74.9 1790,77.8 1777.3,61.6 1785,42.5" fill="#c8ba9a"/>
<polygon points="1790,78 1803.3,93.8 1796.2,113.2 1776,116.8 1762.7,101 1769.8,81.6" fill="#7d4e22"/>
<polygon points="1774.7,111.7 1789.3,126.3 1784,146.2 1764.1,151.5 1749.5,136.9 1754.8,117" fill="#c8ba9a"/>
<polygon points="1762.1,150.1 1779.9,160.4 1779.9,181 1762.1,191.3 1744.3,181 1744.3,160.4" fill="#7d4e22"/>
<polygon points="1762.7,192 1780.5,202.3 1780.5,222.9 1762.7,233.2 1744.9,222.9 1744.9,202.3" fill="#c8ba9a"/>
<polygon points="1762.7,232.9 1780.5,243.2 1780.5,263.8 1762.7,274.1 1744.9,263.8 1744.9,243.2" fill="#7d4e22"/>
<polygon points="1762.1,269.6 1779.9,279.9 1779.9,300.5 1762.1,310.8 1744.3,300.5 1744.3,279.9" fill="#c8ba9a"/>
<polygon points="1762.5,310.4 1780.3,320.7 1780.3,341.3 1762.5,351.6 1744.7,341.3 1744.7,320.7" fill="#7d4e22"/>
<polygon points="1757.1,351.6 1774.9,361.9 1774.9,382.5 1757.1,392.8 1739.3,382.5 1739.3,361.9" fill="#c8ba9a"/>
<polygon points="1754.1,395.2 1771.9,405.5 1771.9,426.1 1754.1,436.4 1736.3,426.1 1736.3,405.5" fill="#7d4e22"/>
<polygon points="1751,431.4 1768.8,441.7 1768.8,462.3 1751,472.6 1733.2,462.3 1733.2,441.7" fill="#c8ba9a"/>
<polygon points="1746,476.6 1763,486.4 1763,506 1746,515.8 1729,506 1729,486.4" fill="#7d4e22"/>
<polygon points="1742.5,517.6 1759.5,527.4 1759.5,547 1742.5,556.8 1725.5,547 1725.5,527.4" fill="#c8ba9a"/>
<polygon points="1740.2,560.4 1757.2,570.2 1757.2,589.8 1740.2,599.6 1723.2,589.8 1723.2,570.2" fill="#7d4e22"/>
<polygon points="1737.3,595.9 1754.3,605.7 1754.3,625.3 1737.3,635.1 1720.3,625.3 1720.3,605.7" fill="#c8ba9a"/>
<path d="M420.8,830C420.9,833.3 420.3,838.7 421.5,850C422.7,861.3 424.1,882.3 428,897.7C431.9,913.1 437.2,927.5 444.6,942.4C452,957.3 461.8,974 472.1,987.2C482.4,1000.4 492.1,1009.6 506.5,1021.6C520.9,1033.7 541,1048.6 558.2,1059.5C575.4,1070.4 589.7,1077.8 609.8,1087C629.9,1096.2 650,1106 678.7,1114.6C707.4,1123.2 747.5,1132.4 781.9,1138.7C816.3,1145 850.8,1149 885.2,1152.4C919.6,1155.8 952.7,1157.6 988.5,1159.3C1024.3,1161 1057.9,1161.1 1100,1162.7C1142.1,1164.3 1200.3,1165.7 1241,1168.7C1281.7,1171.7 1309.8,1175.2 1344.2,1180.7C1378.6,1186.2 1418.8,1194.8 1447.5,1201.4C1476.2,1208 1493.3,1212.8 1516.3,1220.3C1539.2,1227.8 1566.8,1237.5 1585.2,1246.1C1603.6,1254.7 1615,1263 1626.5,1271.9C1638,1280.8 1646,1289.7 1654,1299.5C1662,1309.3 1669.8,1320.8 1674.7,1330.5C1679.6,1340.2 1681.5,1349.1 1683.3,1358C1685.1,1366.9 1685.3,1379.5 1685.7,1383.8" fill="none" stroke="#000" stroke-width="7.6"/>
<path d="M421.2,783.4L386,844.3L420.6,832.3L455.6,844.3Z" fill="#000"/>
<path d="M1625.8,1269.5C1646.5,1266 1704.9,1255.6 1750,1248.8C1795.1,1242 1847.5,1233.4 1896.3,1228.6C1945.1,1223.8 2006,1221.7 2042.6,1220.2C2079.2,1218.7 2085.3,1219 2115.8,1219.5C2146.3,1220 2188.9,1220.2 2225.5,1223.2C2262.1,1226.2 2304.7,1232 2335.2,1237.8C2365.7,1243.6 2388.3,1250 2408.4,1257.9C2428.5,1265.8 2443.7,1275.2 2455.9,1285.3C2468.1,1295.3 2475.9,1305.4 2481.5,1318.2C2487.1,1331 2489.6,1346.2 2489.6,1362.1C2489.6,1377.9 2485.9,1396.2 2481.5,1413.3C2477.1,1430.4 2470.5,1447.4 2463.2,1464.5C2455.9,1481.6 2448,1498.1 2437.6,1515.8C2427.2,1533.5 2413.2,1554.4 2401,1570.6C2388.8,1586.8 2370.6,1605.7 2364.5,1612.7" fill="none" stroke="#000" stroke-width="7.6"/>
<path d="M1027.5,791.5C1045.9,791.3 1104.4,791.3 1137.7,790.4C1171,789.5 1197.4,788.2 1227.2,786.3C1257,784.3 1287.2,781.7 1316.7,778.7C1346.2,775.7 1375.4,772.4 1404.5,768.4C1433.6,764.4 1462.5,760.5 1491.5,754.6C1520.5,748.7 1550,741.5 1578.3,732.9C1606.6,724.3 1640.9,711.1 1661.6,703C1682.2,694.9 1695.4,687.2 1702.2,684.1" fill="none" stroke="#000" stroke-width="3.8" stroke-dasharray="22.3 22"/>
<path d="M1740.8,661.3L1705,664.1L1721.2,674.4L1724.6,692.3Z" fill="#000"/>
<path d="M1006.2,616C1006.8,620 1008.7,631.3 1010,640C1011.3,648.7 1013,658 1013.8,668C1014.6,678 1015,691 1015,700C1015,709 1013.8,718.3 1013.5,722" fill="none" stroke="#000" stroke-width="3.6" stroke-dasharray="18 19"/>
<path d="M1006.7,745.8L1000.8,722.4L1011.8,731.9L1024.2,729.7Z" fill="#000"/>
<path d="M317.9,1412.8H400.4V1421.3H317.9Z" fill="#231815"/>
<path d="M450.4,1417.1Q418.2,1402 388.4,1382.5Q395.2,1401.5 399.4,1417.1Q395.2,1432.7 388.4,1451.7Q418.2,1432.2 450.4,1417.1Z" fill="#231815"/>
<path d="M788.9,1420.5H875.4V1429H788.9Z" fill="#231815"/>
<path d="M925.4,1424.8Q893.2,1409.7 863.4,1390.2Q870.2,1409.2 874.4,1424.8Q870.2,1440.4 863.4,1459.4Q893.2,1439.9 925.4,1424.8Z" fill="#231815"/>
<path d="M1320.3,1424.2H1393.1V1432.7H1320.3Z" fill="#231815"/>
<path d="M1443.1,1428.4Q1410.9,1413.3 1381.1,1393.8Q1387.9,1412.8 1392.1,1428.4Q1387.9,1444 1381.1,1463Q1410.9,1443.5 1443.1,1428.4Z" fill="#231815"/>
<path d="M317.9,1665.8H400.4V1674.3H317.9Z" fill="#231815"/>
<path d="M450.4,1670.1Q418.2,1655 388.4,1635.5Q395.2,1654.5 399.4,1670.1Q395.2,1685.7 388.4,1704.7Q418.2,1685.2 450.4,1670.1Z" fill="#231815"/>
<path d="M788.9,1672H875.4V1680.5H788.9Z" fill="#231815"/>
<path d="M925.4,1676.2Q893.2,1661.1 863.4,1641.6Q870.2,1660.6 874.4,1676.2Q870.2,1691.8 863.4,1710.8Q893.2,1691.3 925.4,1676.2Z" fill="#231815"/>
<path d="M1320.3,1675.5H1393.1V1684H1320.3Z" fill="#231815"/>
<path d="M1443.1,1679.8Q1410.9,1664.7 1381.1,1645.2Q1387.9,1664.2 1392.1,1679.8Q1387.9,1695.4 1381.1,1714.4Q1410.9,1694.9 1443.1,1679.8Z" fill="#231815"/>
<path d="M1952.8,1665.2H2024.1V1673.8H1952.8Z" fill="#231815"/>
<path d="M2074.1,1669.5Q2041.9,1654.4 2012.1,1634.9Q2018.9,1653.9 2023.1,1669.5Q2018.9,1685.1 2012.1,1704.1Q2041.9,1684.6 2074.1,1669.5Z" fill="#231815"/>
<path d="M152.8,1490.3V1573.8H161.2V1490.3Z" fill="#231815"/>
<path d="M157,1623.8Q141.9,1591.2 122.3,1561Q141.4,1568.3 157,1572.8Q172.6,1568.3 191.7,1561Q172.1,1591.2 157,1623.8Z" fill="#231815"/>
<polygon points="1933.2,1370.3 1971.3,1396 1968.1,1441.9 1926.8,1462.1 1888.7,1436.4 1891.9,1390.5" fill="#c8ba9a"/>
<polygon points="2600.7,1632.1 2631.8,1652.2 2629.8,1689.2 2596.9,1705.9 2565.8,1685.8 2567.8,1648.8" fill="#7d4e22"/>
<ellipse cx="445" cy="1132" rx="94.2" ry="69.3" fill="#3a9bd5"/>
<text class="s" x="263.1" y="610.5" font-size="54" textLength="263" lengthAdjust="spacingAndGlyphs">KpsS KpsC</text>
<text class="s" x="1591.7" y="270.2" font-size="54" textLength="130.7" lengthAdjust="spacingAndGlyphs">KpsD</text>
<text class="s" x="1841.2" y="273.9" font-size="54" textLength="130.7" lengthAdjust="spacingAndGlyphs">KpsD</text>
<text class="s" x="1542.1" y="391.6" font-size="54" textLength="124.4" lengthAdjust="spacingAndGlyphs">KpsE</text>
<text class="s" x="1852.2" y="391.6" font-size="54" textLength="124.4" lengthAdjust="spacingAndGlyphs">KpsE</text>
<text class="s" x="1332.5" y="385.1" font-size="54" textLength="140" lengthAdjust="spacingAndGlyphs">KpsM</text>
<text class="s" x="2081.6" y="391.6" font-size="54" textLength="140" lengthAdjust="spacingAndGlyphs">KpsM</text>
<text class="s" x="1425.8" y="627.5" font-size="54" textLength="124.4" lengthAdjust="spacingAndGlyphs">KpsT</text>
<text class="s" x="1959.8" y="627.5" font-size="54" textLength="124.4" lengthAdjust="spacingAndGlyphs">KpsT</text>
<text class="s" x="768.1" y="885.7" font-size="54" textLength="444.7" lengthAdjust="spacingAndGlyphs">Glycosyltransferase</text>
<text class="s" x="910.4" y="951.8" font-size="54" textLength="161.7" lengthAdjust="spacingAndGlyphs">(KfoC)</text>
<text class="i" x="378.5" y="1159.3" font-size="78.5">kfoE</text>
<text class="i" x="1434.9" y="1188.6" font-size="78.5">kfoC</text>
<text class="s" x="24.1" y="1428.4" font-size="78">Glc-6-P</text>
<text class="s" x="36.5" y="1689.3" font-size="78">Fru-6-P</text>
<text class="i" x="323.5" y="1355.6" font-size="78.5">pgm</text>
<text class="i" x="197.7" y="1541.5" font-size="78.5">pgi</text>
<text class="i" x="317.5" y="1624.4" font-size="78.5">glmS</text>
<text class="s" x="499.8" y="1438.5" font-size="78">Glc-1-P</text>
<text class="s" x="479.1" y="1689.9" font-size="78">GlcN-6-P</text>
<text class="i" x="784.1" y="1366.9" font-size="78.5">galU</text>
<text class="i" x="774.9" y="1623.5" font-size="78.5">glmM</text>
<text class="s" x="987.5" y="1438.5" font-size="78">UDP-Glc</text>
<text class="s" x="967.9" y="1693.5" font-size="78">GlcN-1-P</text>
<text class="i" x="1296" y="1366.9" font-size="78.5">ugd</text>
<text class="i" x="1287.4" y="1623.5" font-size="78.5">glmU</text>
<text class="s" x="1485.5" y="1438.5" font-size="78">UDP-GlcA</text>
<text class="s" x="1492.2" y="1693.5" font-size="78">UDP-GlcNAC</text>
<text class="i" x="1934.9" y="1623.5" font-size="78.5">kfoA</text>
<text class="s" x="2081.3" y="1693.4" font-size="78">UDP-GalNAc</text>
<text class="c" x="71.4" y="162.7" font-size="59">葡萄糖</text>
<text class="c" x="2531.2" y="282" font-size="59">外膜</text>
<text class="c" x="2531.4" y="406" font-size="59">周质空间</text>
<text class="c" x="2526.7" y="518.3" font-size="59">内膜</text>
<text class="c" x="390.1" y="731.2" font-size="59">开始</text>
<text class="c" x="941.6" y="1077" font-size="59">聚合</text>
<text class="c" x="2105.6" y="760.6" font-size="59">转运</text>
<text class="c" x="2308.7" y="1867.2" font-size="59">生物合成途径</text>
<text class="s" x="939" y="597.3" font-size="54.5">(</text>
<text class="s" x="999.6" y="597.3" font-size="54.5">)</text>
<text class="s" x="585.5" y="601.6" font-size="54.5">(</text>
<text class="s" x="644.6" y="601.6" font-size="54.5">)</text>
<text x="1021" y="597.5" font-size="54.5" textLength="134" lengthAdjust="spacingAndGlyphs"><tspan class="i">n</tspan><tspan class="s">=2-8</tspan></text>
</svg></body></html>
